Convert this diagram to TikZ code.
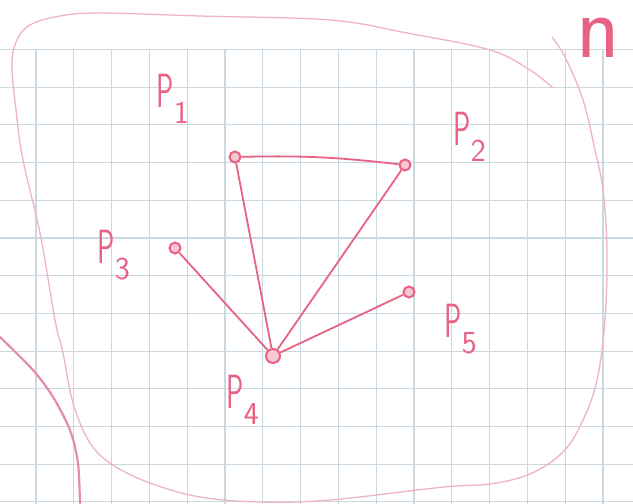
\documentclass[tikz,border=0pt]{standalone}
\usepackage{graphicx}
\definecolor{gridblue}{RGB}{202,216,226}
\definecolor{penpink}{RGB}{232,98,132}
\definecolor{looppink}{RGB}{238,180,196}
\definecolor{curvepink}{RGB}{228,140,170}
\newcommand{\plab}[1]{\scalebox{0.6}[1]{P}\kern0.5pt\raisebox{-16pt}{\fontsize{32}{32}\selectfont #1}}
\begin{document}
\begin{tikzpicture}[x=1pt, y=-1pt,
  gridline/.style={gridblue, line width=1.1pt},
  dot/.style={circle, draw=penpink, fill=penpink!35, line width=2pt, minimum size=11pt, inner sep=0pt},
  edge/.style={penpink, line width=1.8pt},
  plabel/.style={penpink, font=\sffamily\fontsize{48}{48}\selectfont, inner sep=0pt, anchor=base west}]
\fill[white] (0,0) rectangle (633,504);
\clip (0,0) rectangle (633,504);
% squared paper
\foreach \i in {0,...,15}
  \draw[gridline] ({36+37.8*\i},49.5) -- ({36+37.8*\i},504);
\foreach \j in {0,...,12}
  \draw[gridline] (0,{49.5+37.7*\j}) -- (633,{49.5+37.7*\j});
% regions
\draw[looppink, line width=1.3pt] plot[smooth, tension=0.6] coordinates {(553,88) (530,70) (490,50) (407,33) (330,20) (200,16) (100,13) (60,16) (30,25) (16,42) (12,67) (16,110) (23,160) (40,233) (55,320) (63,353) (73,403) (90,443) (113,465) (150,483) (200,497) (260,502) (330,500) (444,487) (490,484) (530,474) (563,452) (583,420) (597,380) (605,320) (607,250) (603,190) (595,150) (583,100) (565,57) (552,37)};
\draw[curvepink, line width=2.2pt] plot[smooth] coordinates {(0,337) (33,370) (53,397) (70,430) (78,463) (80,504)};
% points
\node[dot] (p1) at (235,157) {};
\node[dot] (p2) at (405,165) {};
\node[dot] (p3) at (175,248) {};
\node[dot, minimum size=14pt] (p4) at (273,356) {};
\node[dot] (p5) at (409,292) {};
\draw[edge] (p1) to[bend left=4] (p2);
\draw[edge] (p1) -- (p4);
\draw[edge] (p2) -- (p4);
\draw[edge] (p3) -- (p4);
\draw[edge] (p5) -- (p4);
% labels
\node[plabel] (lp1) at (156,107) {\plab{1}};
\node[plabel] (lp2) at (453,145) {\plab{2}};
\node[plabel] (lp3) at (97,263) {\plab{3}};
\node[plabel] (lp4) at (226,408) {\plab{4}};
\node[plabel] (lp5) at (444,337) {\plab{5}};
\node[penpink, font=\sffamily\fontsize{90}{90}\selectfont, inner sep=0pt, anchor=base west] (region) at (576,57) {n};
\end{tikzpicture}
\end{document}
